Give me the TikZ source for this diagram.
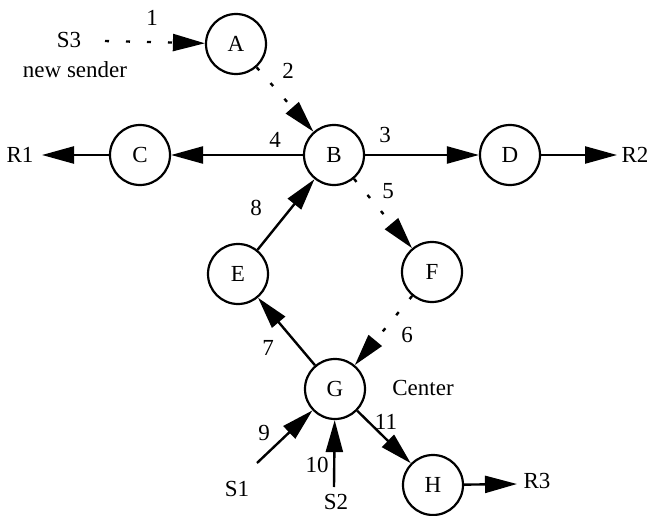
\documentclass[tikz,border=0pt]{standalone}
\usepackage{fontspec}
\setmainfont{Liberation Serif}
\usetikzlibrary{arrows.meta}
\begin{document}
\begin{tikzpicture}[x=1pt,y=-1pt,
  nd/.style={circle,draw,line width=2.2pt,minimum size=60pt,inner sep=0pt},
  lbl/.style={inner sep=0pt},
  arr/.style={line width=2.4pt,-{Triangle[length=32pt,width=17pt]}},
  dotarr/.style={arr,dash pattern=on 4pt off 17pt},
  font=\fontsize{23}{26}\selectfont]
\useasboundingbox (0,0) rectangle (648,516);
\node[nd] (A) at (236,44) {A};
\node[nd] (B) at (334,155) {B};
\node[nd] (C) at (140,155) {C};
\node[nd] (D) at (510,155) {D};
\node[nd] (E) at (238,274) {E};
\node[nd] (F) at (432,272) {F};
\node[nd] (G) at (335,389) {G};
\node[nd] (H) at (433,485) {H};
\node[lbl] (S3) at (69,40) {S3};
\node[lbl] (ns) at (75,70) {new sender};
\node[lbl] (R1) at (20,155) {R1};
\node[lbl] (R2) at (635,155) {R2};
\node[lbl] (R3) at (537,481) {R3};
\node[lbl] (S1t) at (237,489) {S1};
\node[lbl] (S2t) at (336,502) {S2};
\node[lbl] (ctr) at (423,388) {Center};
\coordinate (s3) at (105,41);
\coordinate (s1) at (257,463);
\coordinate (s2) at (334,487);
\coordinate (r1) at (42,155);
\coordinate (r2) at (617,155);
\coordinate (r3) at (517,484);
\draw[dotarr] (s3) -- (A);
\draw[dotarr] (A) -- (B);
\draw[arr] (B) -- (D);
\draw[arr] (B) -- (C);
\draw[arr] (C) -- (r1);
\draw[arr] (D) -- (r2);
\draw[dotarr] (B) -- (F);
\draw[dotarr] (F) -- (G);
\draw[arr] (G) -- (E);
\draw[arr] (E) -- (B);
\draw[arr] (s1) -- (G);
\draw[arr] (s2) -- (G);
\draw[arr] (G) -- (H);
\draw[arr] (H) -- (r3);
\node[lbl] at (152,18) {1};
\node[lbl] at (288,71) {2};
\node[lbl] at (385,135) {3};
\node[lbl] at (275,140) {4};
\node[lbl] at (388,191) {5};
\node[lbl] at (407,335) {6};
\node[lbl] at (268,348) {7};
\node[lbl] at (256,208) {8};
\node[lbl] at (264,433) {9};
\node[lbl] at (317,465) {10};
\node[lbl] at (386,422) {11};
\end{tikzpicture}
\end{document}
